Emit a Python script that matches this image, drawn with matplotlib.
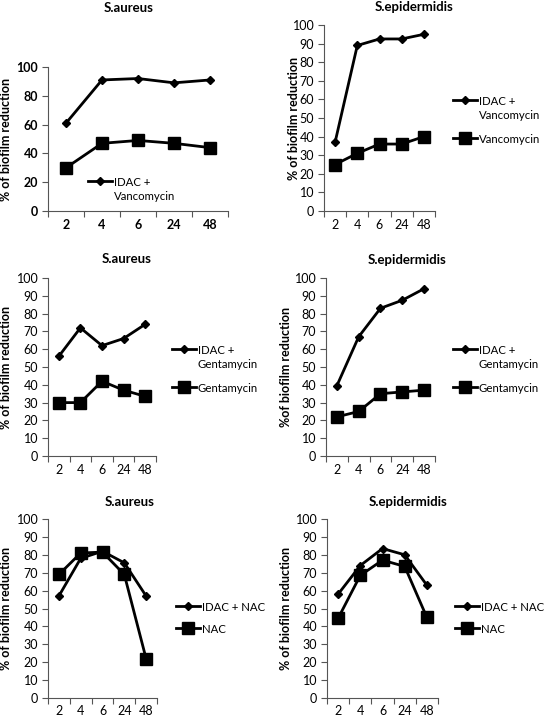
import matplotlib
matplotlib.use("Agg")
import matplotlib.pyplot as plt

plt.rcParams['font.family'] = ['Lato', 'DejaVu Sans']

W, H = 544, 718

hours = ["2", "4", "6", "24", "48"]

# Panel data
sa_idac_vanc = [61, 91, 92, 89, 91]
sa_vanc = [30, 47, 49, 47, 44]
se_idac_vanc = [37, 89, 92.5, 92.5, 95]
se_vanc = [25, 31, 36, 36, 40]
sa_idac_gent = [56, 72, 62, 66, 74]
sa_gent = [30, 30, 42, 37, 33.5]
se_idac_gent = [39.5, 67, 83, 87.5, 94]
se_gent = [22, 25, 35, 36, 37]
sa_idac_nac = [57, 78, 82, 75.5, 57]
sa_nac = [69, 81, 81.5, 69, 22]
se_idac_nac = [58, 74, 83.5, 80, 63]
se_nac = [44.5, 68.5, 77, 73.5, 45]

fig = plt.figure(figsize=(W / 100, H / 100), dpi=100)

FS = 9
LFS = 8.2


def px_axes(l, t, r, b):
    return fig.add_axes([l / W, 1 - b / H, (r - l) / W, (b - t) / H])


panels = [
    dict(box=(48, 67, 228, 211), title="S.aureus", tpos=(129, 8),
         ylabel="% of biofilm reduction", ylx=12,
         s1=sa_idac_vanc, s2=sa_vanc,
         l1="IDAC +\nVancomycin", l2="Vancomycin", step=20, bold=True,
         leg=(88, 177), both=False, ls=1.1, xpad=6),
    dict(box=(324, 25, 435, 211), title="S.epidermidis", tpos=(414, 7),
         ylabel="% of biofilm reduction", ylx=300,
         s1=se_idac_vanc, s2=se_vanc,
         l1="IDAC +\nVancomycin", l2="Vancomycin", step=10, bold=False,
         leg=(453, 96), both=True, ls=1.1, xpad=6),
    dict(box=(48, 278, 156, 456), title="S.aureus", tpos=(127, 259),
         ylabel="% of biofilm reduction", ylx=12,
         s1=sa_idac_gent, s2=sa_gent,
         l1="IDAC +\nGentamycin", l2="Gentamycin", step=10, bold=False,
         leg=(172, 345), both=True, ls=1.1, xpad=6),
    dict(box=(326, 278, 435, 456), title="S.epidermidis", tpos=(407, 260),
         ylabel="%of biofilm reduction", ylx=292,
         s1=se_idac_gent, s2=se_gent,
         l1="IDAC +\nGentamycin", l2="Gentamycin", step=10, bold=False,
         leg=(453, 345), both=True, ls=1.1, xpad=6),
    dict(box=(48, 519, 157, 698), title="S.aureus", tpos=(130, 502),
         ylabel="% of biofilm reduction", ylx=12,
         s1=sa_idac_nac, s2=sa_nac,
         l1="IDAC + NAC", l2="NAC", step=10, bold=False,
         leg=(176, 602), both=True, ls=1.0, xpad=5),
    dict(box=(327, 519, 438, 698), title="S.epidermidis", tpos=(408, 502),
         ylabel="% of biofilm reduction", ylx=292,
         s1=se_idac_nac, s2=se_nac,
         l1="IDAC + NAC", l2="NAC", step=10, bold=False,
         leg=(455, 602), both=True, ls=1.0, xpad=5),
]

x = list(range(len(hours)))

for p in panels:
    l, t, r, b = p['box']
    ax = px_axes(l, t, r, b)
    weight = 'bold' if p['bold'] else 'normal'
    h1, = ax.plot(x, p['s1'], color='black', lw=2.0, marker='D', ms=4.5,
                  label=p['l1'], clip_on=False)
    h2, = ax.plot(x, p['s2'], color='black', lw=2.0, marker='s', ms=8,
                  label=p['l2'], clip_on=False)
    ax.set_xlim(-0.5, len(hours) - 0.5)
    ax.set_ylim(0, 100)
    ax.set_yticks(list(range(0, 101, p['step'])))
    ax.set_xticks(x)
    ax.set_xticklabels(hours)
    ax.set_xticks([i - 0.5 for i in range(len(hours) + 1)], minor=True)
    ax.tick_params(axis='x', which='major', length=0, pad=p['xpad'], labelsize=FS)
    ax.tick_params(axis='x', which='minor', length=4, direction='out',
                   color='#555555', width=0.8)
    ax.tick_params(axis='y', length=4, direction='out', color='#555555',
                   width=0.8, labelsize=FS, pad=3)
    for lab in ax.get_xticklabels() + ax.get_yticklabels():
        lab.set_fontweight(weight)
    for s in ['top', 'right']:
        ax.spines[s].set_visible(False)
    for s in ['left', 'bottom']:
        ax.spines[s].set_color('#555555')
        ax.spines[s].set_linewidth(0.8)
    ax.set_ylabel(p['ylabel'], fontsize=FS, fontweight='bold')
    ax.yaxis.set_label_coords((p['ylx'] - l) / (r - l), 0.5)
    tx, ty = p['tpos']
    fig.text(tx / W, 1 - ty / H, p['title'], ha='center', va='center',
             fontsize=9.5, fontweight='bold')
    handles = [h1, h2] if p['both'] else [h1]
    lx, ly = p['leg']
    leg = ax.legend(handles=handles, loc='upper left',
                    bbox_to_anchor=(lx / W, 1 - ly / H),
                    bbox_transform=fig.transFigure, frameon=False,
                    fontsize=LFS, handlelength=2.1, handletextpad=0.15,
                    labelspacing=p['ls'], borderpad=0, borderaxespad=0)
    for txt in leg.get_texts():
        txt.set_linespacing(1.35)
    # put the handle level with the first text line of a wrapped label
    try:
        for col in leg._legend_handle_box.get_children():
            for row in col.get_children():
                row.align = "top"
    except Exception:
        pass

fig.savefig("out.png", dpi=100)
